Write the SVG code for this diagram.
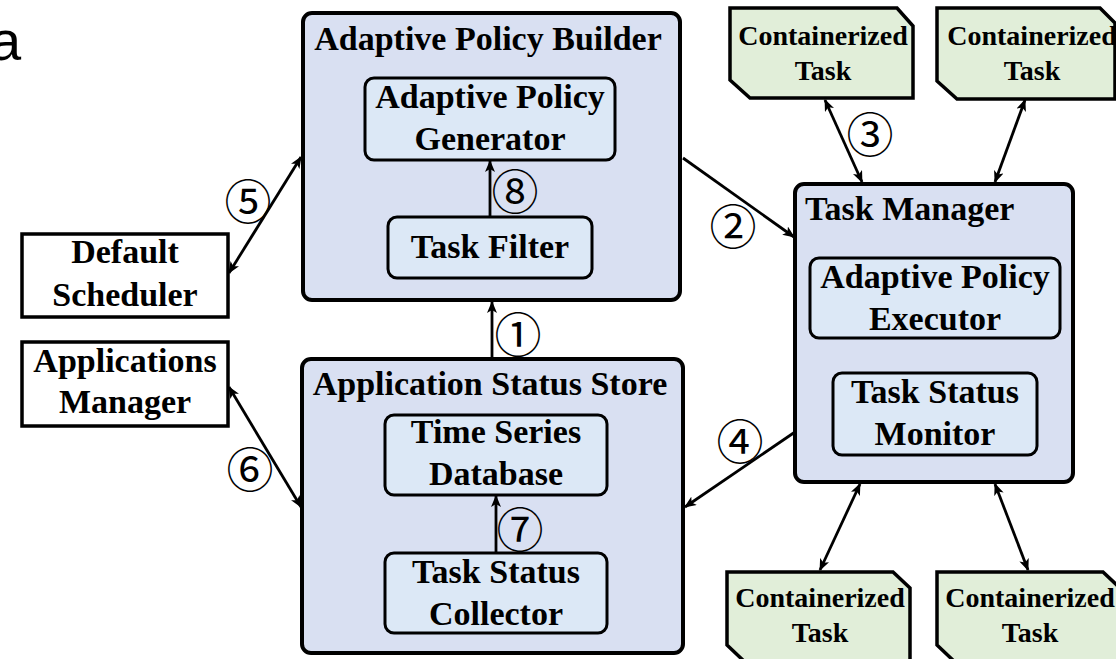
<svg xmlns="http://www.w3.org/2000/svg" width="1116" height="659" viewBox="0 0 1116 659">
<style>
.outer{fill:#d9e0f2;stroke:#000;stroke-width:4}
.inner{fill:#dce8f6;stroke:#000;stroke-width:3}
.plain{fill:#fff;stroke:#000;stroke-width:3.5}
.ct{fill:#e1eed9;stroke:#000;stroke-width:3.5}
.t{font-family:"Liberation Serif","Times New Roman",serif;font-weight:bold;font-size:34px;fill:#000;text-anchor:middle}
.ts{font-family:"Liberation Serif","Times New Roman",serif;font-weight:bold;font-size:28px;fill:#000;text-anchor:middle}
.n{font-family:"Noto Sans CJK JP","DejaVu Sans",sans-serif;font-size:47px;fill:#000;text-anchor:middle}
.c{fill:none;stroke:#000;stroke-width:2.8}
</style>
<defs>
<marker id="ah" viewBox="0 0 12 10" refX="11" refY="5" markerWidth="12" markerHeight="10" markerUnits="userSpaceOnUse" orient="auto-start-reverse">
<path d="M0,0 L12,5 L0,10 L3,5 Z" fill="#000"/>
</marker>
</defs>
<text x="-10" y="60" style="font-family:'Liberation Sans',Arial,sans-serif;font-size:56px;fill:#000">a</text>

<g id="adaptive-policy-builder">
<rect class="outer" x="303" y="13" width="377" height="287" rx="9"/>
<text class="t" x="488" y="50">Adaptive Policy Builder</text>
</g>
<g id="adaptive-policy-generator">
<rect class="inner" x="365" y="78" width="250" height="82" rx="9"/>
<text class="t" x="490" y="108">Adaptive Policy</text>
<text class="t" x="490" y="150">Generator</text>
</g>
<g id="task-filter">
<rect class="inner" x="388" y="217" width="204" height="61" rx="9"/>
<text class="t" x="490" y="258">Task Filter</text>
</g>

<g id="application-status-store">
<rect class="outer" x="302" y="359" width="381" height="294" rx="9"/>
<text class="t" x="490" y="395">Application Status Store</text>
</g>
<g id="time-series-database">
<rect class="inner" x="385" y="415" width="222" height="80" rx="9"/>
<text class="t" x="496" y="443">Time Series</text>
<text class="t" x="496" y="485">Database</text>
</g>
<g id="task-status-collector">
<rect class="inner" x="385" y="553" width="222" height="80" rx="9"/>
<text class="t" x="496" y="583">Task Status</text>
<text class="t" x="496" y="625">Collector</text>
</g>

<g id="task-manager">
<rect class="outer" x="795" y="184" width="278" height="298" rx="9"/>
<text class="t" x="805" y="220" style="text-anchor:start">Task Manager</text>
</g>
<g id="adaptive-policy-executor">
<rect class="inner" x="810" y="258" width="250" height="80" rx="9"/>
<text class="t" x="935" y="288">Adaptive Policy</text>
<text class="t" x="935" y="330">Executor</text>
</g>
<g id="task-status-monitor">
<rect class="inner" x="833" y="373" width="204" height="82" rx="9"/>
<text class="t" x="935" y="403">Task Status</text>
<text class="t" x="935" y="445">Monitor</text>
</g>

<g id="default-scheduler">
<rect class="plain" x="22" y="234" width="206" height="83"/>
<text class="t" x="125" y="263">Default</text>
<text class="t" x="125" y="306">Scheduler</text>
</g>
<g id="applications-manager">
<rect class="plain" x="22" y="342" width="206" height="84"/>
<text class="t" x="125" y="372">Applications</text>
<text class="t" x="125" y="413">Manager</text>
</g>

<g id="containerized-task-1">
<path class="ct" d="M730,8 H897 L913,26 V98 H750 L730,80 Z"/>
<text class="ts" x="823" y="45">Containerized</text>
<text class="ts" x="823" y="80">Task</text>
</g>
<g id="containerized-task-2">
<path class="ct" d="M937,8 H1100 L1115,23 V99 H957 L937,81 Z"/>
<text class="ts" x="1032" y="45">Containerized</text>
<text class="ts" x="1032" y="80">Task</text>
</g>
<g id="containerized-task-3">
<path class="ct" d="M727,572 H893 L910,588 V664 H747 L727,645 Z"/>
<text class="ts" x="820" y="607">Containerized</text>
<text class="ts" x="820" y="642">Task</text>
</g>
<g id="containerized-task-4">
<path class="ct" d="M937,572 H1103 L1120,588 V664 H957 L937,645 Z"/>
<text class="ts" x="1030" y="607">Containerized</text>
<text class="ts" x="1030" y="642">Task</text>
</g>

<g id="connectors">
<line class="c" x1="492" y1="357" x2="492" y2="302" marker-end="url(#ah)"/>
<line class="c" x1="683" y1="158" x2="794" y2="237" marker-end="url(#ah)"/>
<line class="c" x1="825" y1="100" x2="862" y2="182" marker-start="url(#ah)" marker-end="url(#ah)"/>
<line class="c" x1="1025" y1="100" x2="995" y2="182" marker-start="url(#ah)" marker-end="url(#ah)"/>
<line class="c" x1="795" y1="432" x2="685" y2="507" marker-end="url(#ah)"/>
<line class="c" x1="301" y1="157" x2="229" y2="273" marker-start="url(#ah)" marker-end="url(#ah)"/>
<line class="c" x1="229" y1="387" x2="301" y2="507" marker-start="url(#ah)" marker-end="url(#ah)"/>
<line class="c" x1="490" y1="216" x2="490" y2="161" marker-end="url(#ah)"/>
<line class="c" x1="496" y1="552" x2="496" y2="496" marker-end="url(#ah)"/>
<line class="c" x1="860" y1="484" x2="820" y2="570" marker-start="url(#ah)" marker-end="url(#ah)"/>
<line class="c" x1="995" y1="484" x2="1028" y2="570" marker-start="url(#ah)" marker-end="url(#ah)"/>
<text class="n" x="518" y="352">①</text>
<text class="n" x="733" y="244">②</text>
<text class="n" x="870" y="152">③</text>
<text class="n" x="740" y="459">④</text>
<text class="n" x="248" y="219">⑤</text>
<text class="n" x="250" y="487">⑥</text>
<text class="n" x="520" y="547">⑦</text>
<text class="n" x="515" y="209">⑧</text>
</g>
</svg>
